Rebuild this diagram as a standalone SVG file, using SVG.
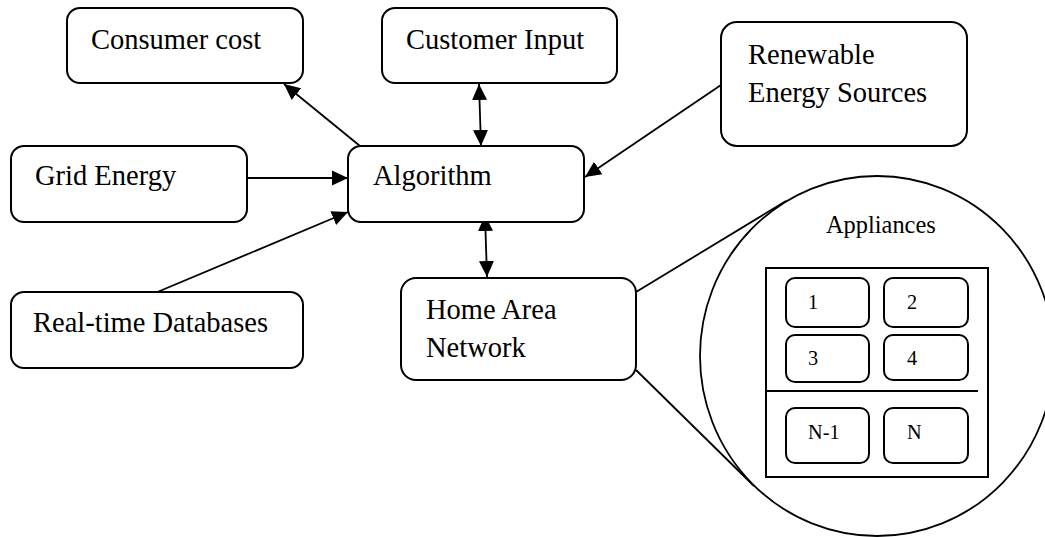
<svg xmlns="http://www.w3.org/2000/svg" width="1045" height="537" viewBox="0 0 1045 537">
<style>
.box{fill:#fff;stroke:#000;stroke-width:2}
text{font-family:"Liberation Serif","Times New Roman","DejaVu Serif",serif;fill:#000}
.t{font-size:28.5px}
.s{font-size:20.3px}
.a{font-size:24.4px}
.ln{stroke:#000;stroke-width:1.8;fill:none}
</style>
<defs>
<marker id="arr" markerUnits="userSpaceOnUse" markerWidth="18" markerHeight="18" viewBox="0 0 18 18" refX="16" refY="9" orient="auto-start-reverse">
<path d="M0,1.5 L16,9 L0,16.5 Z" fill="#000"/>
</marker>
</defs>
<rect width="1045" height="537" fill="#fff"/>
<g id="connectors">
<line class="ln" x1="360" y1="146" x2="284" y2="84" marker-end="url(#arr)"/>
<line class="ln" x1="479" y1="84" x2="481" y2="146" marker-start="url(#arr)" marker-end="url(#arr)"/>
<line class="ln" x1="247" y1="178" x2="348" y2="178" marker-end="url(#arr)"/>
<line class="ln" x1="155" y1="293" x2="348" y2="212" marker-end="url(#arr)"/>
<line class="ln" x1="721" y1="85" x2="585" y2="177" marker-end="url(#arr)"/>
<line class="ln" x1="485" y1="215" x2="487" y2="277" marker-start="url(#arr)" marker-end="url(#arr)"/>
<line class="ln" x1="636" y1="292" x2="786" y2="201"/>
<line class="ln" x1="636" y1="370" x2="754" y2="486"/>
</g>
<g id="consumer-cost">
<rect class="box" x="67" y="8" width="236" height="75" rx="13"/>
<text class="t" x="91" y="49" font-family="Liberation Serif, serif">Consumer cost</text>
</g>
<g id="customer-input">
<rect class="box" x="382" y="8" width="235" height="75" rx="13"/>
<text class="t" x="406" y="49" font-family="Liberation Serif, serif">Customer Input</text>
</g>
<g id="renewable">
<rect class="box" x="721" y="22" width="246" height="124" rx="16"/>
<text class="t" x="748" y="64" font-family="Liberation Serif, serif">Renewable</text>
<text class="t" x="748" y="102" font-family="Liberation Serif, serif">Energy Sources</text>
</g>
<g id="grid-energy">
<rect class="box" x="11" y="146" width="236" height="76" rx="13"/>
<text class="t" x="35" y="185" font-family="Liberation Serif, serif">Grid Energy</text>
</g>
<g id="algorithm">
<rect class="box" x="348" y="146" width="236" height="76" rx="13"/>
<text class="t" x="373" y="185" font-family="Liberation Serif, serif">Algorithm</text>
</g>
<g id="real-time-databases">
<rect class="box" x="11" y="292" width="292" height="76" rx="13"/>
<text class="t" x="33" y="332" font-family="Liberation Serif, serif">Real-time Databases</text>
</g>
<g id="home-area-network">
<rect class="box" x="401" y="278" width="235" height="102" rx="15"/>
<text class="t" x="426" y="319" font-family="Liberation Serif, serif">Home Area</text>
<text class="t" x="426" y="357" font-family="Liberation Serif, serif">Network</text>
</g>
<g id="appliances">
<ellipse cx="877" cy="356" rx="177" ry="180" fill="#fff" stroke="#000" stroke-width="1.8"/>
<text class="a" x="826" y="233" font-family="Liberation Serif, serif">Appliances</text>
<rect x="766" y="268" width="222" height="209" fill="none" stroke="#000" stroke-width="2"/>
<line x1="766" y1="391" x2="978" y2="391" stroke="#000" stroke-width="2"/>
<g id="app-1"><rect class="box" x="786" y="278" width="83" height="49" rx="9"/><text class="s" x="808" y="309" font-family="Liberation Serif, serif">1</text></g>
<g id="app-2"><rect class="box" x="884" y="278" width="84" height="49" rx="9"/><text class="s" x="907" y="309" font-family="Liberation Serif, serif">2</text></g>
<g id="app-3"><rect class="box" x="786" y="335" width="83" height="47" rx="9"/><text class="s" x="808" y="365" font-family="Liberation Serif, serif">3</text></g>
<g id="app-4"><rect class="box" x="884" y="335" width="84" height="45" rx="9"/><text class="s" x="907" y="365" font-family="Liberation Serif, serif">4</text></g>
<g id="app-n1"><rect class="box" x="786" y="408" width="83" height="55" rx="9"/><text class="s" x="808" y="439" font-family="Liberation Serif, serif">N-1</text></g>
<g id="app-n"><rect class="box" x="884" y="408" width="84" height="55" rx="9"/><text class="s" x="907" y="439" font-family="Liberation Serif, serif">N</text></g>
</g>
</svg>
